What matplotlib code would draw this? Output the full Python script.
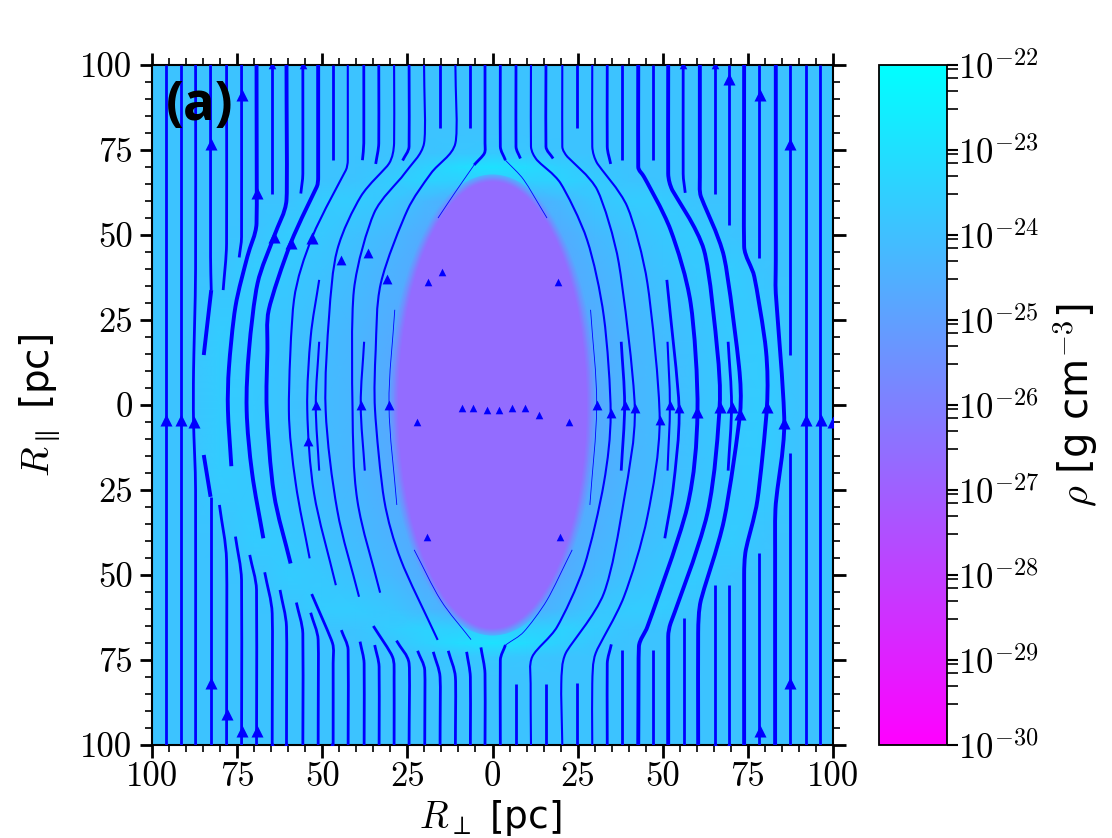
import numpy as np
import matplotlib
matplotlib.use('Agg')
import matplotlib.pyplot as plt
from matplotlib.colors import LogNorm
from matplotlib.patches import Ellipse, PathPatch
from matplotlib.path import Path
from matplotlib.ticker import FixedLocator, FuncFormatter, NullFormatter

plt.rcParams['mathtext.fontset'] = 'cm'

# log10 density outside the cavity, one quadrant, mirrored below
grid_perp = [0, 10, 20, 30, 40, 50, 60, 70, 80, 90, 100]
grid_par = [0, 20, 40, 50, 60, 66, 70, 74, 80, 100]
log_rho = [
    [-24.7, -24.7, -24.7, -24.7, -24.3, -24.1, -23.9, -23.7, -23.6, -23.88, -23.88],
    [-24.7, -24.7, -24.7, -24.6, -24.3, -24.1, -23.9, -23.7, -23.6, -23.88, -23.88],
    [-24.7, -24.7, -24.7, -24.4, -24.1, -23.9, -23.7, -23.6, -23.85, -23.88, -23.88],
    [-24.7, -24.7, -24.6, -24.2, -23.95, -23.75, -23.6, -23.85, -23.88, -23.88, -23.88],
    [-24.6, -24.6, -24.2, -23.8, -23.6, -23.6, -23.85, -23.88, -23.88, -23.88, -23.88],
    [-23.6, -23.5, -23.4, -23.6, -23.85, -23.88, -23.88, -23.88, -23.88, -23.88, -23.88],
    [-22.9, -23.1, -23.5, -23.8, -23.88, -23.88, -23.88, -23.88, -23.88, -23.88, -23.88],
    [-23.7, -23.8, -23.88, -23.88, -23.88, -23.88, -23.88, -23.88, -23.88, -23.88, -23.88],
    [-23.88, -23.88, -23.88, -23.88, -23.88, -23.88, -23.88, -23.88, -23.88, -23.88, -23.88],
    [-23.88, -23.88, -23.88, -23.88, -23.88, -23.88, -23.88, -23.88, -23.88, -23.88, -23.88],
]

# cavity edge, outermost first
cavity_perp = [31.0, 30.4, 29.9, 29.4, 28.9, 28.5, 28.1, 27.7]
cavity_par = [67.8, 67.5, 67.2, 66.9, 66.6, 66.3, 66.0, 65.7]
cavity_log_rho = [-24.6, -24.9, -25.2, -25.5, -25.85, -26.15, -26.4, -26.6]

lines_medium = [
    [(-96, 100), (-96, -100)], [(-91.6, 100), (-91.6, -100)],
    [(-87.2, 100), (-87.2, 40), (-87.8, 10), (-87.8, -5), (-87.2, -25), (-87.2, -100)],
    [(-82.8, 100), (-82.8, 43.6), (-82.6, 33.8)],
    [(-82.8, -100), (-82.8, -27)],
    [(-78.1, 100), (-78.1, 47.5), (-79.1, 33.8)],
    [(-80.2, -29.4), (-78.1, -45.6), (-78.1, -100)],
    [(-73.7, 100), (-73.7, 49.5), (-74.4, 43.4)],
    [(-75.5, -38.7), (-73.7, -51.5), (-73.7, -100)],
    [(-71.3, -44.1), (-69.3, -54.4), (-69.3, -100)],
    [(-64.9, 100), (-64.9, 62.2)],
    [(-66.9, -49.2), (-64.7, -61.3), (-64.7, -100)],
    [(-62.4, -54.4), (-60.5, -65.2), (-60.5, -100)],
    [(-55.7, 100), (-55.7, 68), (-56.3, 62.2)],
    [(-57.6, -58.1), (-55.7, -67.2), (-55.7, -100)],
    [(-53.4, -61.1), (-51.2, -69.1), (-51.2, -100)],
    [(-46.8, 100), (-46.8, 72)],
    [(-53.1, -55.6), (-47, -70), (-46.8, -76), (-46.8, -100)],
    [(-44.4, -66.2), (-42.4, -72), (-42.4, -100)],
    [(-37.8, 100), (-37.8, 77), (-38.2, 72)],
    [(-38.9, -69.6), (-37.7, -76), (-37.7, -100)],
    [(-33.4, 100), (-33.4, 77), (-34.3, 70.9)],
    [(-34.6, -70.6), (-33.3, -77), (-33.3, -100)],
    [(-35, -65), (-29.4, -74), (-28.9, -80), (-28.9, -100)],
    [(-24.5, 100), (-24.5, 76), (-26.4, 71.9)],
    [(-28.2, -69.3), (-24.5, -76), (-24.5, -100)],
    [(-22, -72.3), (-19.9, -78), (-19.9, -100)],
    [(-15.4, 100), (-15.4, 81.4)],
    [(-17.4, -72.6), (-15.4, -80), (-15.4, -100)],
    [(-13, -72.3), (-10.9, -80), (-10.9, -100)],
    [(-6.5, 100), (-6.5, 81.4)],
    [(-7.6, -72.6), (-6.5, -80), (-6.5, -100)],
    [(-2.2, 100), (-2.2, 77), (-2.4, 74), (-5.4, 70.6)],
    [(-3.4, -71.3), (-2.2, -79), (-2.2, -100)],
    [(2.3, 100), (2.3, 76), (3.8, 72)],
    [(6.9, 100), (6.9, 76), (8.2, 72.5)],
    [(15.7, 100), (15.7, 76), (17.8, 72.5)],
    [(24.9, 100), (24.9, 81.4)],
    [(33.7, 100), (33.7, 76), (34.7, 70.9)],
    [(38, 100), (38, 72)],
    [(47.2, 100), (47.2, 72)],
    [(56, 100), (56, 68), (56.6, 62.4)],
    [(65.2, 100), (65.2, 62.2)],
    [(69.5, 100), (69.5, 53)],
    [(78.3, 100), (78.3, 43.1)],
    [(87.5, 100), (87.5, 14.7)],
    [(87.5, -14.2), (87.5, -100)],
    [(92, 100), (92, -100)], [(96.3, 100), (96.3, -100)],
    [(78.3, -43.4), (78.3, -100)], [(69.5, -52.8), (69.5, -100)],
    [(65.3, -53), (65.3, -100)], [(56.3, -62.5), (56.3, -100)],
    [(47.2, -72), (47.2, -100)], [(38.1, -72), (38.1, -100)],
    [(34.9, -70.4), (33.7, -76), (33.7, -100)],
    [(24.9, -81.9), (24.9, -100)], [(15.7, -82), (15.7, -100)],
    [(6.9, -82), (6.9, -100)],
    [(2.3, -100), (2.3, -75), (3.8, -70.6)],
    [(37.8, 18.6), (38.8, 0), (37.8, -19.3)],
    [(51.2, 36.8), (54.8, -1), (53.1, -24), (50.6, -39.2)],
    [(69.2, 18.6), (70.2, 0), (69.2, -19.3)],
]

lines_thick = [
    [(-82.6, 33.8), (-84.8, 14.7)],
    [(-84.8, -14.7), (-82.8, -27)],
    [(-69.3, 100), (-69.3, 53.4), (-72, 43.6), (-75.5, 28.9), (-77.4, 11), (-77.7, -1.5), (-76.7, -18)],
    [(-60.5, 100), (-60.5, 60.3), (-64.2, 49.5), (-69, 35.8), (-71.5, 16.2), (-72.2, -1.5), (-70.6, -20), (-67.3, -39.2)],
    [(-51.2, 100), (-51.2, 67), (-51.6, 64.2), (-59.3, 47.5), (-65.7, 28), (-66.1, 16), (-66.3, -1.5), (-64.2, -26), (-59.3, -46.6)],
    [(42.8, 100), (42.8, 70), (44.5, 67.1), (52.3, 51.5), (58.2, 29.9), (60.2, -2), (57.2, -30), (45.5, -65.2), (43, -71), (42.8, -100)],
    [(51.6, 100), (51.6, 68), (52.8, 63.2), (62.1, 45.6), (66, 16.2), (66.7, -0.5), (63.1, -31.9), (52.3, -64.2), (51.6, -68.1), (51.6, -100)],
    [(60.9, 100), (60.9, 67), (61.2, 61.3), (68, 43.6), (72.4, 11.3), (72.7, -2.5), (68, -33.8), (61.2, -57.4), (60.4, -67), (60.4, -100)],
    [(73.9, 100), (73.9, 46.6), (76.9, 37.7), (80.3, 16.2), (80.6, -0.5), (77.8, -28), (74.4, -42.6), (73.9, -50), (73.9, -100)],
    [(83.2, 100), (83.2, 42.6), (83.2, 32.8), (85.7, -5.4), (83.2, -29), (83, -42.6), (83, -100)],
]

lines_thin = [
    [(-42.5, 100), (-42.5, 72), (-43.1, 69), (-52.9, 49.5), (-58.3, 30.9), (-59.8, -1.5), (-57.8, -23), (-53.7, -45.1)],
    [(-28.9, 100), (-28.9, 77), (-30.4, 71), (-38.7, 61.3), (-45.6, 45.6), (-48, 26), (-49, -1.5), (-45.6, -30.9), (-39.2, -56.4)],
    [(-20.1, 100), (-20.1, 77), (-25.9, 68), (-34.8, 56.4), (-40.7, 33.8), (-41.1, -1.5), (-39.7, -28), (-33, -55.2)],
    [(-10.9, 100), (-10.9, 77), (-18.1, 68.1), (-25, 57.3), (-32.8, 35.8), (-34.3, 16.2), (-34.5, -1.5), (-31.8, -28), (-26.9, -45.6), (-16.1, -69.1)],
    [(-50.9, 36.8), (-53.4, 20), (-54.4, -1.5), (-52.4, -26), (-46, -53)],
    [(-50.9, 18.6), (-51.9, 0), (-50.9, -19.3)],
    [(-37.7, 18.6), (-38.7, 0), (-37.5, -19.3)],
    [(11.3, 100), (11.3, 76), (13.1, 72), (20, 65.2), (27.8, 48.5), (32.7, 26), (34.7, -2.5), (32.7, -23), (26.9, -47.5), (19, -65.2), (11.7, -74), (11.2, -82), (11.3, -100)],
    [(20.5, 100), (20.5, 76), (22, 73), (30.8, 63.2), (37.1, 41.7), (41.8, -1), (38.6, -28), (32.7, -55.4), (21.5, -73), (20.2, -82), (20.5, -100)],
    [(29.3, 100), (29.3, 76), (30.8, 71), (39.6, 58.3), (45.5, 35.8), (49.1, -4.4), (45.5, -32.8), (38.6, -56.4), (30.3, -73), (29.3, -82), (29.3, -100)],
    [(51.4, 18.6), (52.1, 0), (51.4, -19.3)],
]

lines_hair = [
    [(-5.4, 70.6), (-11.2, 62.2), (-16, 55)],
    [(-28.7, 28), (-30.4, 0), (-28.1, -29.4)],
    [(-23, -42.6), (-15.2, -57.4), (-6.3, -69)],
    [(3.8, 72), (9.2, 66.2), (16, 55)],
    [(28.8, 28), (30.6, 0), (28.6, -29.4)],
    [(3.8, -70.6), (9.2, -66.7), (16, -57.4), (23.4, -42.6)],
]

arrows_large_x = [-64.2, -59.3, -52.9, -96, -91.6, -87.7, -82.6, -78.1, -73.7, -69.3, -73.7, -82.6, -69.3, 60.2, 66.7, 70.2, 72.7, 80.6, 85.5, 92, 96.5, 100, 69.5, 78.5, 87.5, 87.5, 78.5]
arrows_large_y = [49.5, 47.5, 49, -4.4, -4.4, -4.9, -81.7, -90.9, -95.9, -95.9, 91.2, 76.7, 62.4, -2, -0.5, -0.5, -2.6, -0.5, -5.4, -4.4, -4.4, -4.9, 96, 91.2, 76.7, -81.7, -95.8]
arrows_medium_x = [-44.4, -36.5, -30.9, -51.7, -38.7, -30.4, -54.1, 30.6, 34.7, 38.8, 41.8, 49.1, 52.1, 54.8]
arrows_medium_y = [42.6, 44.6, 37, 0, 0, 0, -10.5, 0, -2.5, 0, -1, -4.4, 0, -1]
arrows_small_x = [-14.7, -18.9, -9.1, -5.6, -1.6, 1.9, 5.8, 9.5, 13.8, 22.4, -22.2, -19.3, 19.2, 19.7, -64.9, -55.7, 56, 65.2, -64.7, -60.5, -47, 65.3, 69.5]
arrows_small_y = [39, 36.3, -1, -1, -1.5, -1.5, -1, -1, -3, -4.9, -4.9, -38.9, 36.3, -38.9, 100, 100, 100, 100, -100, -100, -100, -100, -100]

ticks_pc = [-100, -75, -50, -25, 0, 25, 50, 75, 100]
cbar_exponents = [-30, -29, -28, -27, -26, -25, -24, -23, -22]
cbar_minor_subs = [3, 5, 7, 9]


def smooth_path(pts):
    # bezier through the read points; handles capped by the shorter neighbour
    # so the long straight runs stay straight
    pts = np.array(pts, dtype=float)
    if len(pts) == 2:
        return Path(pts)
    seg = np.hypot(*(pts[1:] - pts[:-1]).T)
    tang = np.zeros_like(pts)
    for i in range(len(pts)):
        d = pts[min(i + 1, len(pts) - 1)] - pts[max(i - 1, 0)]
        tang[i] = d / np.hypot(*d)
    verts = [pts[0]]
    codes = [Path.MOVETO]
    for i in range(len(pts) - 1):
        h0 = min(seg[i], seg[max(i - 1, 0)]) / 3
        h1 = min(seg[i], seg[min(i + 1, len(seg) - 1)]) / 3
        verts += [pts[i] + tang[i] * h0, pts[i + 1] - tang[i + 1] * h1, pts[i + 1]]
        codes += [Path.CURVE4] * 3
    return Path(verts, codes)


fig = plt.figure(figsize=(11.12, 8.38), dpi=100)
ax = fig.add_axes([152 / 1112, 93 / 838, 681 / 1112, 680 / 838])
cax = fig.add_axes([879 / 1112, 93 / 838, 68 / 1112, 680 / 838])

norm = LogNorm(vmin=1e-30, vmax=1e-22)
cmap = plt.get_cmap('cool_r')

# mirror the quadrant to the full panel
table = np.array(log_rho)
xs = np.array(grid_perp, dtype=float)
ys = np.array(grid_par, dtype=float)
x_full = np.concatenate([-xs[:0:-1], xs])
y_full = np.concatenate([-ys[:0:-1], ys])
table = np.hstack([table[:, :0:-1], table])
table = np.vstack([table[:0:-1, :], table])
mesh = ax.pcolormesh(x_full, y_full, 10.0 ** table, cmap=cmap, norm=norm, shading='gouraud', zorder=1)

for a, b, v in zip(cavity_perp, cavity_par, cavity_log_rho):
    ax.add_patch(Ellipse((0, 0), 2 * a, 2 * b, facecolor=cmap(norm(10.0 ** v)), edgecolor='none', zorder=2))

for group, lw in [(lines_medium, 2.0), (lines_thick, 2.8), (lines_thin, 1.5), (lines_hair, 0.6)]:
    for pts in group:
        ax.add_patch(PathPatch(smooth_path(pts), fill=False, edgecolor='blue', lw=lw, capstyle='butt', zorder=3))

ax.scatter(arrows_large_x, arrows_large_y, marker='^', s=75, color='blue', linewidths=0, zorder=4)
ax.scatter(arrows_medium_x, arrows_medium_y, marker='^', s=50, color='blue', linewidths=0, zorder=4)
ax.scatter(arrows_small_x, arrows_small_y, marker='^', s=30, color='blue', linewidths=0, zorder=4)

ax.set_xlim(-100, 100)
ax.set_ylim(-100, 100)
ax.xaxis.set_major_locator(FixedLocator(ticks_pc))
ax.yaxis.set_major_locator(FixedLocator(ticks_pc))
ax.xaxis.set_minor_locator(FixedLocator(np.arange(-100, 101, 5)))
ax.yaxis.set_minor_locator(FixedLocator(np.arange(-100, 101, 5)))
abs_fmt = FuncFormatter(lambda v, pos: '%d' % abs(round(v)))
ax.xaxis.set_major_formatter(abs_fmt)
ax.yaxis.set_major_formatter(abs_fmt)
ax.tick_params(which='major', direction='out', top=True, right=True, length=9, width=2, pad=5)
ax.tick_params(axis='x', which='major', pad=3)
ax.tick_params(which='minor', direction='out', top=True, right=True, length=5, width=1.2)
for lab in ax.get_xticklabels() + ax.get_yticklabels():
    lab.set_family('cmr10')
    lab.set_fontsize(25)
for s in ax.spines.values():
    s.set_linewidth(1.5)

ax.text(-96, 88, '(a)', fontsize=38, fontweight='bold', family='Open Sans', ha='left', va='center', zorder=6)

fig.text(490 / 1112, 0, r'$R_{\perp}$ [pc]', fontsize=27, ha='center', va='bottom', family='DejaVu Sans')
fig.text(40 / 1112, 433 / 838, r'$R_{\parallel}$ [pc]', fontsize=28, rotation=90, ha='center', va='center', family='DejaVu Sans')

cb = fig.colorbar(mesh, cax=cax)
cb.ax.yaxis.set_major_locator(FixedLocator([10.0 ** e for e in cbar_exponents]))
cb.ax.yaxis.set_minor_locator(FixedLocator([s * 10.0 ** e for e in cbar_exponents[:-1] for s in cbar_minor_subs]))
cb.ax.yaxis.set_major_formatter(FuncFormatter(lambda v, pos: r'$10^{%d}$' % round(np.log10(v))))
cb.ax.yaxis.set_minor_formatter(NullFormatter())
cb.ax.tick_params(which='major', length=8, width=1.5, pad=0)
cb.ax.tick_params(which='minor', length=8, width=1.2)
for lab in cb.ax.get_yticklabels():
    lab.set_fontsize(25)
cb.outline.set_linewidth(1.3)
fig.text(1076 / 1112, 433 / 838, r'$\rho$ [g cm$^{-3}$]', fontsize=29, rotation=90, ha='center', va='center', family='DejaVu Sans')

fig.savefig('out.png', dpi=100)
